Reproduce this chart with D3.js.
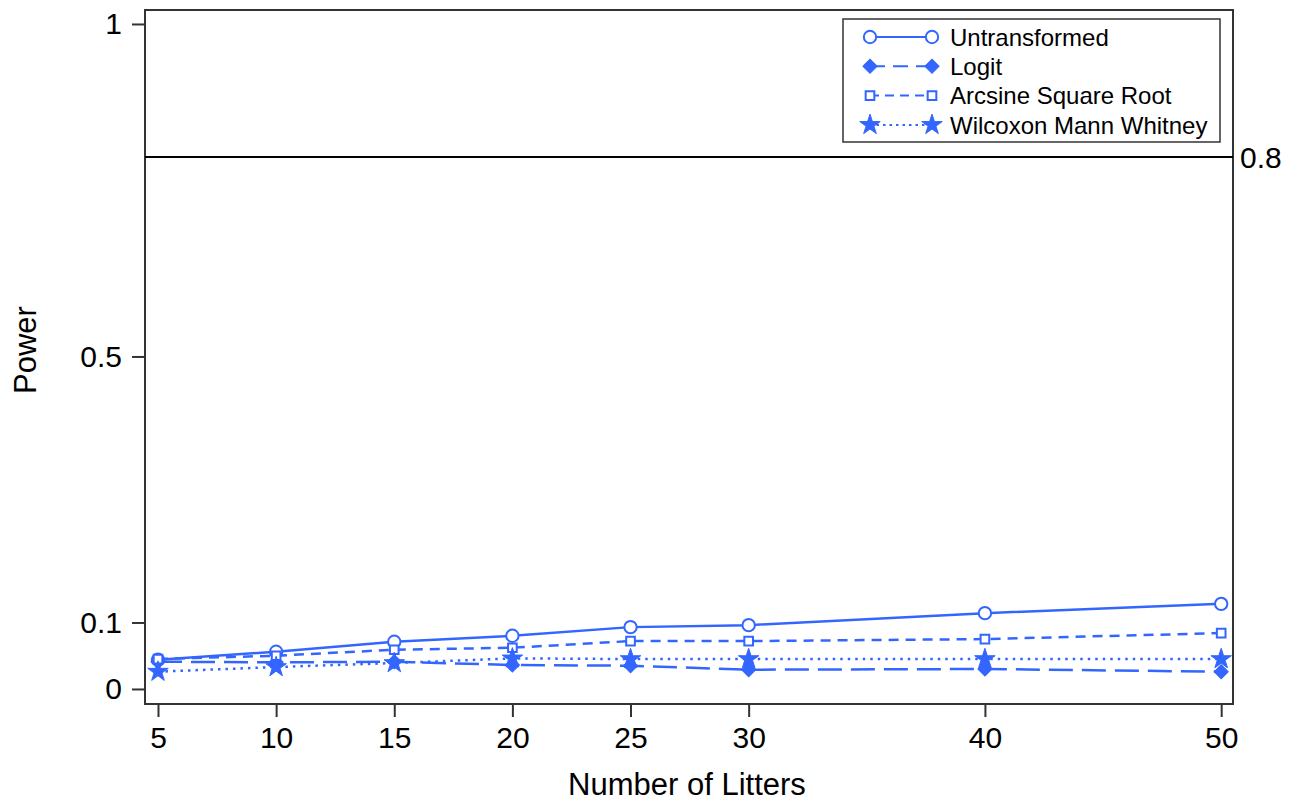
<!DOCTYPE html>
<html>
<head>
<meta charset="utf-8">
<script src="https://cdn.jsdelivr.net/npm/d3@7"></script>
<style>
  body { margin: 0; background: #fff; }
  text { font-family: "Liberation Sans", Arial, sans-serif; fill: #000; }
</style>
</head>
<body>
<div id="main-frame"></div>
<script>
const litters = [5, 10, 15, 20, 25, 30, 40, 50];
const untransformed = [0.044, 0.056, 0.071, 0.080, 0.093, 0.096, 0.114, 0.128];
const logit = [0.041, 0.040, 0.041, 0.036, 0.035, 0.029, 0.030, 0.026];
const arcsine = [0.045, 0.050, 0.059, 0.062, 0.072, 0.072, 0.075, 0.084];
const wilcoxon = [0.026, 0.033, 0.039, 0.046, 0.045, 0.045, 0.045, 0.045];
const seriesNames = ["Untransformed", "Logit", "Arcsine Square Root", "Wilcoxon Mann Whitney"];
const yTicks = [0, 0.1, 0.5, 1];
const refLine = 0.8;

const blue = "#3366ff";
const margin = { top: 10, right: 72, bottom: 102, left: 145 };
const width = 1305 - margin.left - margin.right;
const height = 806 - margin.top - margin.bottom;

const svg = d3.select("#main-frame")
  .append("svg")
  .attr("width", 1305)
  .attr("height", 806)
  .append("g")
  .attr("transform", `translate(${margin.left}, ${margin.top})`);

const xScale = d3.scaleLinear().domain([4.45, 50.5]).range([0, width]);
const yScale = d3.scaleLinear().domain([-0.0226, 1.021]).range([height, 0]);

// axes
const xAxis = svg.append("g")
  .attr("transform", `translate(0, ${height})`)
  .call(d3.axisBottom(xScale).tickValues(litters).tickSize(13).tickPadding(10).tickSizeOuter(0));
const yAxis = svg.append("g")
  .call(d3.axisLeft(yScale).tickValues(yTicks).tickFormat(d3.format("")).tickSize(13).tickPadding(10).tickSizeOuter(0));
[xAxis, yAxis].forEach(a => {
  a.select(".domain").remove();
  a.selectAll("line").attr("stroke", "#333").attr("stroke-width", 2);
  a.selectAll("text").style("font-size", "30px").style("font-family", "Liberation Sans, Arial, sans-serif").attr("fill", "#000");
});

// frame
svg.append("rect")
  .attr("width", width).attr("height", height)
  .attr("fill", "none").attr("stroke", "#333").attr("stroke-width", 2);

// reference line
svg.append("line")
  .attr("x1", 0).attr("x2", width)
  .attr("y1", yScale(refLine)).attr("y2", yScale(refLine))
  .attr("stroke", "#000").attr("stroke-width", 2);
svg.append("text")
  .attr("x", width + 7).attr("y", yScale(refLine))
  .attr("dy", "0.36em")
  .style("font-size", "30px")
  .text("0.8");

// axis titles
svg.append("text")
  .attr("x", width / 2 - 2).attr("y", 795 - margin.top)
  .attr("text-anchor", "middle")
  .style("font-size", "31px")
  .text("Number of Litters");
svg.append("text")
  .attr("transform", `translate(${36 - margin.left}, ${350 - margin.top}) rotate(-90)`)
  .attr("text-anchor", "middle")
  .style("font-size", "31px")
  .text("Power");

const series = [
  { name: seriesNames[0], values: untransformed, dash: null, legendDash: null, symbol: d3.symbolCircle, size: 120, rot: 0, filled: false },
  { name: seriesNames[1], values: logit, dash: "24,9", legendDash: "15,8", symbol: d3.symbolSquare, size: 100, rot: 45, filled: true },
  { name: seriesNames[2], values: arcsine, dash: "10,7", legendDash: "9,6", symbol: d3.symbolSquare, size: 75, rot: 0, filled: false },
  { name: seriesNames[3], values: wilcoxon, dash: "2.5,5", legendDash: "2.5,4", symbol: d3.symbolStar, size: 130, rot: 0, filled: true }
];

const line = d3.line().x(d => xScale(d[0])).y(d => yScale(d[1]));

function drawSymbol(g, s, x, y) {
  g.append("path")
    .attr("d", d3.symbol().type(s.symbol).size(s.size)())
    .attr("transform", `translate(${x}, ${y}) rotate(${s.rot})`)
    .attr("fill", s.filled ? blue : "#fff")
    .attr("stroke", blue)
    .attr("stroke-width", s.filled ? 1 : 2);
}

series.forEach(s => {
  const pts = litters.map((l, i) => [l, s.values[i]]);
  svg.append("path")
    .datum(pts)
    .attr("d", line)
    .attr("fill", "none")
    .attr("stroke", blue)
    .attr("stroke-width", 2.5)
    .attr("stroke-dasharray", s.dash);
  const g = svg.append("g");
  pts.forEach(p => drawSymbol(g, s, xScale(p[0]), yScale(p[1])));
});

// legend
const legend = svg.append("g").attr("transform", `translate(${843 - margin.left}, ${19 - margin.top})`);
legend.append("rect")
  .attr("width", 377).attr("height", 123)
  .attr("fill", "#fff").attr("stroke", "#333").attr("stroke-width", 1.5);
series.forEach((s, i) => {
  const y = 18 + i * 29.3;
  legend.append("line")
    .attr("x1", 27).attr("x2", 89).attr("y1", y).attr("y2", y)
    .attr("stroke", blue).attr("stroke-width", 2)
    .attr("stroke-dasharray", s.legendDash);
  drawSymbol(legend, s, 27, y);
  drawSymbol(legend, s, 89, y);
  legend.append("text")
    .attr("x", 107).attr("y", y).attr("dy", "0.36em")
    .style("font-size", "24px")
    .text(s.name);
});
</script>
</body>
</html>
